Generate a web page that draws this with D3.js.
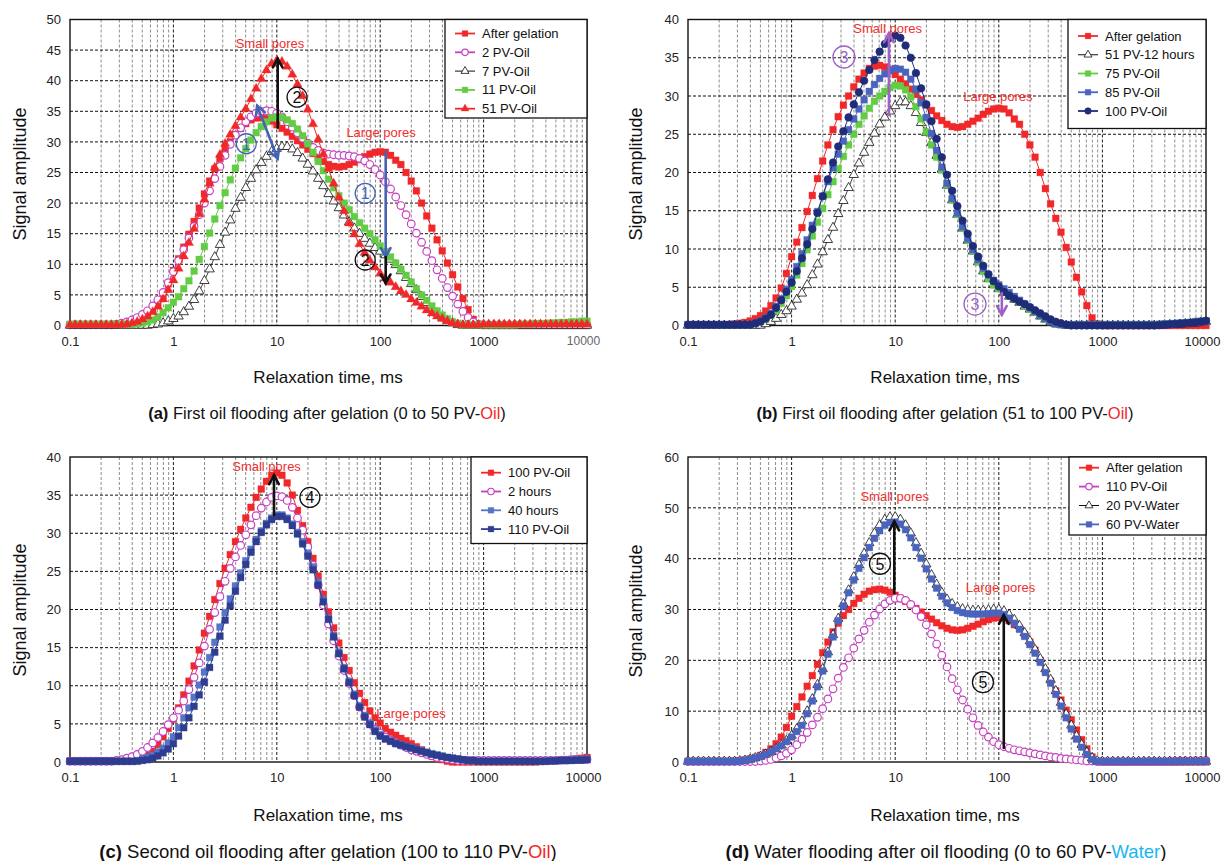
<!DOCTYPE html>
<html><head><meta charset="utf-8">
<script src="https://cdn.jsdelivr.net/npm/d3@7"></script>
<style>
body{margin:0;background:#fff;}
svg text{font-family:"Liberation Sans",Arial,sans-serif;}
</style></head><body>
<svg id="fig" width="1222" height="861"></svg>
<script>
// NMR T2 relaxation time sampling (ms), 20 points per decade
const T2 = [
0.1,0.1122,0.1259,0.1413,0.1585,0.1778,0.1995,0.2239,0.2512,0.2818,
0.3162,0.3548,0.3981,0.4467,0.5012,0.5623,0.6310,0.7079,0.7943,0.8913,
1,1.122,1.259,1.413,1.585,1.778,1.995,2.239,2.512,2.818,
3.162,3.548,3.981,4.467,5.012,5.623,6.310,7.079,7.943,8.913,
10,11.22,12.59,14.13,15.85,17.78,19.95,22.39,25.12,28.18,
31.62,35.48,39.81,44.67,50.12,56.23,63.10,70.79,79.43,89.13,
100,112.2,125.9,141.3,158.5,177.8,199.5,223.9,251.2,281.8,
316.2,354.8,398.1,446.7,501.2,562.3,631.0,707.9,794.3,891.3,
1000,1122,1259,1413,1585,1778,1995,2239,2512,2818,
3162,3548,3981,4467,5012,5623,6310,7079,7943,8913,
10000];

// Signal amplitude of each T2 spectrum
const afterGelation = [
0.1,0.1,0.1,0.1,0.1,0.1,0.1,0.1,0.1,0.2,
0.3,0.4,0.6,0.9,1.3,1.9,2.6,3.6,4.9,6.8,
9.0,10.9,12.8,14.9,17.0,19.2,21.5,23.6,25.6,27.3,
28.8,30.0,31.2,32.2,33.0,33.6,33.9,34.0,33.8,33.4,
32.8,32.2,31.6,30.9,30.2,29.5,28.8,28.1,27.4,26.8,
26.3,26.0,25.9,26.0,26.3,26.7,27.1,27.6,28.0,28.3,
28.4,28.3,27.8,27.0,26.3,25.0,23.6,22.0,20.0,17.9,
15.9,14.0,12.2,10.2,8.3,6.3,4.4,2.6,1.0,0.2,
0,0,0,0,0,0,0,0,0,0,
0,0,0,0,0,0,0,0,0,0,
0];
const pv2Oil = [
0.1,0.1,0.1,0.1,0.1,0.1,0.1,0.1,0.1,0.2,
0.4,0.6,0.9,1.3,1.8,2.4,3.2,4.2,5.4,7.0,
8.8,10.6,12.4,14.3,16.2,18.1,20.0,22.0,24.0,26.0,
27.8,29.6,31.1,32.3,33.3,34.1,34.7,35.0,35.1,35.0,
34.7,34.1,33.3,32.4,31.5,30.6,29.8,29.1,28.6,28.2,
28.0,27.9,27.8,27.8,27.7,27.6,27.3,26.9,26.3,25.5,
24.6,23.5,22.3,21.0,19.6,18.1,16.6,15.1,13.6,12.1,
10.6,9.1,7.7,6.2,4.8,3.5,2.3,1.3,0.6,0.2,
0.1,0.1,0.1,0.1,0.1,0.1,0.1,0.1,0.1,0.1,
0.1,0.1,0.1,0.1,0.1,0.1,0.1,0.1,0.1,0.1,
0.1];
const pv7Oil = [
0,0,0,0,0,0,0,0,0,0,
0,0,0,0,0,0,0.1,0.2,0.4,0.7,
1.1,1.5,2.2,3.1,4.2,5.6,7.3,9.2,11.2,13.2,
15.2,17.2,19.1,20.9,22.5,24.0,25.4,26.6,27.6,28.4,
28.9,29.2,29.2,28.8,28.2,27.3,26.3,25.2,24.0,22.8,
21.5,20.3,19.2,18.0,16.9,15.9,15.0,14.2,13.4,12.7,
12.1,11.5,10.8,9.9,8.9,7.8,6.8,5.8,4.7,3.7,
2.8,2.0,1.3,0.8,0.4,0.1,0,0,0,0,
0,0,0,0,0,0,0,0,0,0,
0,0,0,0,0,0,0,0,0,0,
0];
const pv11Oil = [
0.2,0.2,0.2,0.2,0.2,0.2,0.2,0.2,0.2,0.2,
0.2,0.2,0.2,0.3,0.4,0.6,0.9,1.4,2.1,2.9,
3.8,4.7,6.0,7.3,8.9,10.8,12.9,15.1,17.4,19.6,
21.7,23.8,25.7,27.4,28.9,30.3,31.5,32.5,33.3,33.9,
34.1,34.0,33.6,33.0,32.1,31.0,29.7,28.3,26.8,25.3,
23.9,22.5,21.2,20.0,18.9,17.8,16.8,15.9,15.0,14.0,
13.0,12.1,11.2,10.2,9.2,8.2,7.1,6.0,5.0,4.1,
3.2,2.4,1.7,1.1,0.6,0.3,0.1,0.1,0.1,0.1,
0.1,0.1,0.1,0.1,0.1,0.1,0.1,0.2,0.2,0.2,
0.3,0.3,0.3,0.4,0.4,0.5,0.5,0.6,0.6,0.7,
0.7];
const pv51Oil = [
0.1,0.1,0.1,0.1,0.1,0.1,0.1,0.1,0.1,0.1,
0.1,0.2,0.4,0.6,1.0,1.5,2.2,3.1,4.3,5.8,
7.4,9.3,11.3,13.5,15.8,18.2,20.6,23.2,25.8,27.9,
29.7,31.2,32.6,34.0,35.4,37.0,38.7,40.3,41.7,42.8,
43.3,43.1,42.3,41.0,39.4,37.5,35.3,32.9,30.4,28.0,
25.6,23.2,20.9,18.7,16.7,14.9,13.3,11.9,10.6,9.5,
8.5,7.7,7.0,6.3,5.6,5.0,4.3,3.7,3.1,2.5,
2.0,1.5,1.1,0.7,0.4,0.2,0.1,0.1,0.1,0.1,
0.2,0.2,0.2,0.2,0.2,0.2,0.2,0.2,0.2,0.2,
0.2,0.2,0.2,0.2,0.2,0.2,0.2,0.2,0.2,0.2,
0.2];
const pv51Soak12h = [
0,0,0,0,0,0,0,0,0,0,
0,0,0,0,0,0.2,0.5,0.9,1.4,1.9,
2.5,3.4,4.2,5.3,6.6,8.0,9.6,11.2,12.8,14.6,
16.3,18.0,19.7,21.2,22.6,23.9,25.1,26.3,27.2,28.0,
28.7,29.2,29.2,28.7,27.8,26.5,25.2,23.9,22.2,20.4,
18.3,16.4,14.5,12.7,11.1,9.7,8.3,7.1,6.1,5.3,
4.8,4.3,3.8,3.4,3.0,2.5,2.1,1.7,1.2,0.8,
0.5,0.2,0.1,0,0,0,0,0,0,0,
0,0,0,0,0,0,0,0,0,0,
0,0,0.05,0.1,0.1,0.15,0.2,0.25,0.3,0.4,
0.5];
const pv75Oil = [
0.1,0.1,0.1,0.1,0.1,0.1,0.1,0.1,0.1,0.1,
0.1,0.1,0.1,0.3,0.5,0.8,1.3,2.0,2.9,3.9,
5.1,6.6,8.1,9.9,11.7,13.5,15.3,17.1,18.8,20.5,
22.1,23.6,25.0,26.3,27.4,28.4,29.3,30.0,30.6,31.1,
31.4,31.3,30.8,29.9,28.6,27.0,25.3,23.6,22.0,20.3,
18.4,16.4,14.5,12.7,11.1,9.7,8.3,7.1,6.1,5.3,
4.8,4.4,3.9,3.5,3.1,2.6,2.1,1.7,1.2,0.8,
0.5,0.2,0.1,0.1,0.1,0.1,0.1,0.1,0.1,0.1,
0.1,0.1,0.1,0.1,0.1,0.1,0.1,0.1,0.1,0.1,
0.1,0.15,0.2,0.2,0.25,0.3,0.35,0.4,0.5,0.55,
0.6];
const pv85Oil = [
0.1,0.1,0.1,0.1,0.1,0.1,0.1,0.1,0.1,0.1,
0.1,0.1,0.1,0.3,0.6,1.0,1.6,2.5,3.5,4.7,
6.0,7.7,9.4,11.2,13.1,14.9,16.9,18.8,20.6,22.4,
24.1,25.6,27.0,28.3,29.5,30.6,31.5,32.3,32.9,33.3,
33.6,33.5,33.1,32.2,30.9,29.1,27.2,25.1,22.9,20.7,
18.6,16.6,14.7,12.9,11.3,9.9,8.6,7.5,6.6,5.9,
5.3,4.8,4.3,3.8,3.3,2.8,2.3,1.8,1.3,0.9,
0.5,0.2,0.1,0.1,0.1,0.1,0.1,0.1,0.1,0.1,
0.1,0.1,0.1,0.1,0.1,0.1,0.1,0.1,0.1,0.1,
0.1,0.15,0.2,0.2,0.25,0.3,0.35,0.4,0.5,0.55,
0.6];
const pv100Oil = [
0.1,0.1,0.1,0.1,0.1,0.1,0.1,0.1,0.1,0.1,
0.1,0.1,0.1,0.3,0.5,0.9,1.4,2.3,3.3,4.4,
5.6,7.1,8.8,10.6,12.6,14.7,16.9,19.1,21.3,23.4,
25.4,27.2,28.9,30.5,32.0,33.4,34.7,35.8,36.8,37.6,
37.9,37.6,36.6,35.0,33.0,31.0,28.9,26.7,24.4,22.0,
19.7,17.6,15.6,13.7,12.0,10.4,9.0,7.8,6.7,5.8,
5.1,4.4,3.9,3.5,3.1,2.8,2.4,2.0,1.6,1.2,
0.8,0.5,0.3,0.1,0,0,0,0,0,0,
0,0,0,0,0,0,0,0,0,0,
0,0.05,0.1,0.15,0.2,0.25,0.3,0.35,0.4,0.5,
0.6];
const soak2h = [
0.1,0.1,0.1,0.1,0.1,0.1,0.1,0.1,0.1,0.2,
0.3,0.5,0.7,1.0,1.4,1.9,2.5,3.2,4.0,4.9,
5.8,6.8,8.0,9.5,11.1,13.0,15.2,17.4,19.6,21.7,
23.7,25.4,26.9,28.4,29.8,31.1,32.3,33.3,34.1,34.7,
34.9,34.8,34.3,33.4,32.0,30.4,28.2,25.8,23.2,20.6,
18.1,15.9,13.9,12.0,10.3,8.7,7.2,6.0,5.0,4.3,
3.8,3.3,2.9,2.5,2.2,1.9,1.6,1.4,1.2,1.0,
0.8,0.6,0.5,0.4,0.3,0.2,0.2,0.2,0.2,0.2,
0.2,0.2,0.2,0.2,0.2,0.2,0.2,0.2,0.2,0.2,
0.2,0.2,0.2,0.2,0.2,0.25,0.25,0.3,0.3,0.3,
0.35];
const soak40h = [
0.1,0.1,0.1,0.1,0.1,0.1,0.1,0.1,0.1,0.1,
0.1,0.1,0.1,0.2,0.4,0.6,0.9,1.3,1.8,2.5,
3.3,4.5,5.8,7.1,8.5,10.1,11.8,13.7,15.7,17.7,
19.6,21.4,23.1,24.8,26.4,27.9,29.2,30.3,31.3,32.0,
32.4,32.4,32.0,31.2,30.1,28.9,27.4,25.6,23.6,21.3,
18.9,16.6,14.4,12.4,10.6,8.9,7.4,6.1,5.1,4.2,
3.6,3.1,2.8,2.5,2.3,2.1,1.9,1.7,1.5,1.3,
1.1,0.9,0.8,0.6,0.5,0.4,0.3,0.2,0.2,0.1,
0.1,0.1,0.1,0.1,0.1,0.1,0.1,0.1,0.1,0.1,
0.1,0.1,0.15,0.15,0.2,0.2,0.25,0.3,0.3,0.35,
0.4];
const pv110Oil = [
0.1,0.1,0.1,0.1,0.1,0.1,0.1,0.1,0.1,0.1,
0.1,0.1,0.1,0.1,0.2,0.3,0.5,0.8,1.2,1.7,
2.4,3.4,4.5,5.8,7.3,8.8,10.5,12.4,14.4,16.5,
18.6,20.5,22.4,24.2,25.9,27.5,28.9,30.1,31.1,31.8,
32.2,32.2,31.8,31.0,29.9,28.6,27.0,25.2,23.2,21.0,
18.7,16.4,14.2,12.2,10.4,8.7,7.2,5.9,4.9,4.0,
3.4,3.0,2.7,2.4,2.2,2.0,1.8,1.6,1.4,1.2,
1.0,0.9,0.7,0.6,0.5,0.4,0.3,0.2,0.2,0.1,
0.1,0.1,0.1,0.1,0.1,0.1,0.1,0.1,0.1,0.1,
0.1,0.1,0.1,0.15,0.15,0.2,0.2,0.2,0.25,0.25,
0.3];
const pv20Water = [
0.1,0.1,0.1,0.1,0.1,0.1,0.1,0.1,0.1,0.1,
0.2,0.3,0.5,0.8,1.1,1.5,2.0,2.6,3.3,4.2,
5.2,6.5,8.0,10.0,12.4,15.2,18.3,21.6,25.0,28.2,
31.1,33.8,36.4,38.8,41.0,43.1,45.0,46.6,47.7,48.2,
48.2,47.7,46.6,45.0,43.1,41.0,38.9,36.8,34.9,33.3,
32.0,31.1,30.5,30.1,29.9,29.8,29.8,29.8,29.9,30.0,
30.0,29.7,29.0,28.0,26.8,25.4,23.8,22.1,20.3,18.3,
16.2,14.0,11.7,9.4,7.2,5.1,3.4,1.9,0.8,0.2,
0.1,0.1,0.1,0.1,0.1,0.1,0.1,0.1,0.1,0.1,
0.1,0.1,0.1,0.1,0.1,0.1,0.1,0.1,0.1,0.1,
0.1];
const pv60Water = [
0.1,0.1,0.1,0.1,0.1,0.1,0.1,0.1,0.1,0.1,
0.2,0.3,0.5,0.8,1.1,1.5,2.0,2.6,3.2,4.0,
4.9,6.0,7.2,9.5,12.0,14.8,17.9,21.2,24.6,27.8,
30.7,33.3,35.8,38.1,40.2,42.2,44.0,45.5,46.6,47.1,
47.2,46.8,45.7,44.1,42.2,40.1,38.0,36.0,34.2,32.6,
31.3,30.4,29.8,29.4,29.2,29.1,29.1,29.1,29.2,29.3,
29.3,29.0,28.3,27.3,26.1,24.7,23.1,21.4,19.6,17.6,
15.5,13.3,11.0,8.7,6.5,4.5,2.9,1.5,0.5,0.1,
0.1,0.1,0.1,0.1,0.1,0.1,0.1,0.1,0.1,0.1,
0.1,0.1,0.1,0.1,0.1,0.1,0.1,0.1,0.1,0.1,
0.1];

// Axis tick values
const xTicks = [0.1, 1, 10, 100, 1000, 10000];
const xTickLabels = ["0.1", "1", "10", "100", "1000", "10000"];

// Colours
const RED = "#f0282a", MAG = "#c540c1", GREEN = "#62cc44", BLUE = "#4a64be",
      NAVY = "#1f2c78", DBLUE = "#2e3d90", LBLUE = "#5774c6", BLACK = "#111",
      ABLUE = "#4463b3", PURPLE = "#a061c6", CYAN = "#19b5ee";

const svg = d3.select("#fig");
svg.append("rect").attr("width", 1222).attr("height", 861).attr("fill", "#fff");

const panels = [
  {
    box: [70, 587, 19.5, 325.5], yMax: 50, yStep: 5,
    lastTickSerif: true,
    series: [
      {name: "After gelation", v: afterGelation, c: RED, m: "square", fill: true},
      {name: "2 PV-Oil", v: pv2Oil, c: MAG, m: "circle", fill: false},
      {name: "7 PV-Oil", v: pv7Oil, c: BLACK, m: "triangle", fill: false},
      {name: "11 PV-Oil", v: pv11Oil, c: GREEN, m: "square", fill: true},
      {name: "51 PV-Oil", v: pv51Oil, c: RED, m: "triangle", fill: true}
    ],
    legend: {x: 445, y: 19.5, w: 142, h: 98.5, row0: 33.5, step: 18.8},
    labels: [{t: "Small pores", x: 8.6, y: 46}, {t: "Large pores", x: 102, y: 31.6}],
    arrows: [
      {x1: 10.2, y1: 32.3, x2: 10.2, y2: 43.6, c: BLACK},
      {x1: 6.46, y1: 35.9, x2: 10.2, y2: 27.3, c: ABLUE, both: true},
      {x1: 113, y1: 28.4, x2: 113, y2: 11.2, c: ABLUE},
      {x1: 113, y1: 11.2, x2: 113, y2: 6.9, c: BLACK}
    ],
    marks: [
      {n: "2", x: 15.7, y: 37.3, c: BLACK},
      {n: "1", x: 5.07, y: 29.7, c: ABLUE},
      {n: "1", x: 71.6, y: 21.6, c: ABLUE},
      {n: "2", x: 71.6, y: 10.7, c: BLACK}
    ],
    title: {x: 328, y: 383},
    ytitle: {x: 20, y: 174},
    caption: {x: 327, y: 419, size: 16.5, parts: [["(a)", true], [" First oil flooding after gelation (0 to 50 PV-"], ["Oil", false, RED], [")"]]}
  },
  {
    box: [688, 1206, 19.5, 325.5], yMax: 40, yStep: 5,
    series: [
      {name: "After gelation", v: afterGelation, c: RED, m: "square", fill: true},
      {name: "51 PV-12 hours", v: pv51Soak12h, c: BLACK, m: "triangle", fill: false},
      {name: "75 PV-Oil", v: pv75Oil, c: GREEN, m: "square", fill: true},
      {name: "85 PV-Oil", v: pv85Oil, c: BLUE, m: "square", fill: true},
      {name: "100 PV-Oil", v: pv100Oil, c: NAVY, m: "circle", fill: true}
    ],
    legend: {x: 1068, y: 19.5, w: 138, h: 109, row0: 36, step: 18.75},
    labels: [{t: "Small pores", x: 8.46, y: 38.8}, {t: "Large pores", x: 98, y: 30.0}],
    arrows: [
      {x1: 8.7, y1: 27.5, x2: 8.7, y2: 38.2, c: PURPLE},
      {x1: 107, y1: 4.25, x2: 107, y2: 1.4, c: PURPLE}
    ],
    marks: [
      {n: "3", x: 3.2, y: 35.1, c: PURPLE, r: 11},
      {n: "3", x: 58.9, y: 2.8, c: PURPLE, r: 11}
    ],
    title: {x: 945, y: 383},
    ytitle: {x: 636, y: 174},
    caption: {x: 945, y: 419, size: 16.5, parts: [["(b)", true], [" First oil flooding after gelation (51 to 100 PV-"], ["Oil", false, RED], [")"]]}
  },
  {
    box: [70, 587, 457, 762], yMax: 40, yStep: 5,
    series: [
      {name: "100 PV-Oil", v: pv100Oil, c: RED, m: "square", fill: true},
      {name: "2 hours", v: soak2h, c: MAG, m: "circle", fill: false},
      {name: "40 hours", v: soak40h, c: LBLUE, m: "square", fill: true},
      {name: "110 PV-Oil", v: pv110Oil, c: DBLUE, m: "square", fill: true}
    ],
    legend: {x: 471, y: 457, w: 116, h: 86.5, row0: 472.7, step: 18.8},
    labels: [{t: "Small pores", x: 7.96, y: 38.7}, {t: "Large pores", x: 198.6, y: 6.3}],
    arrows: [
      {x1: 9.4, y1: 32.4, x2: 9.4, y2: 37.6, c: BLACK}
    ],
    marks: [
      {n: "4", x: 20.9, y: 34.7, c: BLACK}
    ],
    title: {x: 328, y: 821},
    ytitle: {x: 20, y: 610},
    caption: {x: 328, y: 858, size: 18.5, parts: [["(c)", true], [" Second oil flooding after gelation (100 to 110 PV-"], ["Oil", false, RED], [")"]]}
  },
  {
    box: [688, 1206, 457, 762], yMax: 60, yStep: 10,
    series: [
      {name: "After gelation", v: afterGelation, c: RED, m: "square", fill: true},
      {name: "110 PV-Oil", v: pv110Oil, c: MAG, m: "circle", fill: false},
      {name: "20 PV-Water", v: pv20Water, c: BLACK, m: "triangle", fill: false},
      {name: "60 PV-Water", v: pv60Water, c: BLUE, m: "square", fill: true}
    ],
    legend: {x: 1069, y: 457, w: 137, h: 78, row0: 467.7, step: 18.9},
    labels: [{t: "Small pores", x: 9.9, y: 52.3}, {t: "Large pores", x: 104, y: 34.3}],
    arrows: [
      {x1: 9.8, y1: 33.2, x2: 9.8, y2: 47.3, c: BLACK},
      {x1: 111.7, y1: 2.75, x2: 111.7, y2: 28.9, c: BLACK}
    ],
    marks: [
      {n: "5", x: 7.13, y: 39, c: BLACK, r: 10.5},
      {n: "5", x: 70.3, y: 15.7, c: BLACK, r: 10.5}
    ],
    title: {x: 945, y: 821},
    ytitle: {x: 636, y: 611},
    caption: {x: 946, y: 858, size: 18.5, parts: [["(d)", true], [" Water flooding after oil flooding (0 to 60 PV-"], ["Water", false, CYAN], [")"]]}
  }
];

function marker(g, s, x, y, scale) {
  const k = scale || 1;
  if (s.m === "circle") {
    g.append("circle").attr("cx", x).attr("cy", y).attr("r", 3.8 * k)
      .attr("fill", s.fill ? s.c : "#fff").attr("stroke", s.c)
      .attr("stroke-width", s.fill ? 0.6 : 1.2);
  } else {
    const type = s.m === "square" ? d3.symbolSquare : d3.symbolTriangle;
    const size = (s.m === "square" ? 46 : 38) * k * k;
    g.append("path").attr("d", d3.symbol().type(type).size(size)())
      .attr("transform", `translate(${x},${y})`)
      .attr("fill", s.fill ? s.c : "#fff").attr("stroke", s.c)
      .attr("stroke-width", s.fill ? 0.3 : 0.8);
  }
}

function drawArrow(g, x1, y1, x2, y2, c, both) {
  g.append("line").attr("x1", x1).attr("y1", y1).attr("x2", x2).attr("y2", y2)
    .attr("stroke", c).attr("stroke-width", 2.6).attr("stroke-linecap", "round");
  const head = (tx, ty, fx, fy) => {
    const a = Math.atan2(ty - fy, tx - fx), L = 10, w = 0.5;
    const p1 = [tx - L * Math.cos(a - w), ty - L * Math.sin(a - w)];
    const p2 = [tx - L * Math.cos(a + w), ty - L * Math.sin(a + w)];
    g.append("path").attr("d", `M${p1}L${tx},${ty}L${p2}`)
      .attr("fill", "none").attr("stroke", c).attr("stroke-width", 2.6)
      .attr("stroke-linecap", "round").attr("stroke-linejoin", "miter");
  };
  head(x2, y2, x1, y1);
  if (both) head(x1, y1, x2, y2);
}

panels.forEach(p => {
  const [x0, x1, y0, y1] = p.box;
  const xs = d3.scaleLog().domain([0.1, 10000]).range([x0, x1]);
  const ys = d3.scaleLinear().domain([0, p.yMax]).range([y1, y0]);
  const g = svg.append("g");

  // grid: minor and major decades, then horizontal lines
  const grid = g.append("g");
  [0.1, 1, 10, 100, 1000].forEach(b => {
    d3.range(2, 10).forEach(m => {
      grid.append("line").attr("x1", xs(b * m)).attr("x2", xs(b * m))
        .attr("y1", y0).attr("y2", y1).attr("stroke", "#8c8c8c")
        .attr("stroke-width", 1).attr("stroke-dasharray", "3,2");
    });
  });
  [1, 10, 100, 1000].forEach(t => {
    grid.append("line").attr("x1", xs(t)).attr("x2", xs(t))
      .attr("y1", y0).attr("y2", y1).attr("stroke", "#1a1a1a")
      .attr("stroke-width", 1).attr("stroke-dasharray", "3,2");
  });
  const yTicks = d3.range(0, p.yMax + 0.001, p.yStep);
  yTicks.filter(v => v > 0 && v < p.yMax).forEach(v => {
    grid.append("line").attr("x1", x0).attr("x2", x1)
      .attr("y1", ys(v)).attr("y2", ys(v)).attr("stroke", "#111")
      .attr("stroke-width", 1).attr("stroke-dasharray", "3,2");
  });

  // axes labels
  const ya = g.append("g").attr("transform", `translate(${x0},0)`)
    .call(d3.axisLeft(ys).tickValues(yTicks).tickSize(0).tickPadding(9).tickFormat(d3.format("d")));
  ya.select(".domain").remove();
  ya.selectAll("text").attr("font-size", 13).attr("fill", "#222")
    .attr("font-family", "'Liberation Sans', Arial, sans-serif");
  const xa = g.append("g").attr("transform", `translate(0,${y1})`)
    .call(d3.axisBottom(xs).tickValues(xTicks).tickSize(0).tickPadding(11)
      .tickFormat((d, i) => xTickLabels[i]));
  xa.select(".domain").remove();
  xa.selectAll("text").attr("font-size", 13).attr("fill", "#222")
    .attr("font-family", "'Liberation Sans', Arial, sans-serif");
  const lastTick = xa.selectAll("text").filter((d, i) => i === xTicks.length - 1);
  if (p.lastTickSerif) {
    lastTick.attr("font-family", "'Liberation Serif', 'DejaVu Serif', serif")
      .attr("font-size", 12).attr("fill", "#666").attr("dx", -4);
  } else {
    lastTick.attr("dx", -4);
  }

  // frame
  g.append("rect").attr("x", x0).attr("y", y0).attr("width", x1 - x0).attr("height", y1 - y0)
    .attr("fill", "none").attr("stroke", "#111").attr("stroke-width", 1.4);

  // series
  const line = d3.line().x(d => xs(d[0])).y(d => ys(d[1]));
  p.series.forEach(s => {
    const pts = T2.map((t, i) => [t, s.v[i]]);
    const sg = g.append("g");
    sg.append("path").attr("d", line(pts)).attr("fill", "none")
      .attr("stroke", s.c).attr("stroke-width", s.c === BLACK ? 0.8 : 1);
    pts.forEach(d => marker(sg, s, xs(d[0]), ys(d[1])));
  });

  // annotations
  p.labels.forEach(l => {
    g.append("text").attr("x", xs(l.x)).attr("y", ys(l.y)).attr("text-anchor", "middle")
      .attr("dominant-baseline", "central").attr("font-size", 13).attr("fill", "#f03030").text(l.t);
  });
  p.arrows.forEach(a => drawArrow(g, xs(a.x1), ys(a.y1), xs(a.x2), ys(a.y2), a.c, a.both));
  p.marks.forEach(mk => {
    const cx = xs(mk.x), cy = ys(mk.y);
    g.append("circle").attr("cx", cx).attr("cy", cy).attr("r", mk.r || 10)
      .attr("fill", "none").attr("stroke", mk.c).attr("stroke-width", 1.3);
    g.append("text").attr("x", cx).attr("y", cy + 0.5).attr("text-anchor", "middle")
      .attr("dominant-baseline", "central").attr("font-size", 16).attr("fill", mk.c).text(mk.n);
  });

  // legend
  const L = p.legend;
  const lg = g.append("g");
  lg.append("rect").attr("x", L.x).attr("y", L.y).attr("width", L.w).attr("height", L.h)
    .attr("fill", "#fff").attr("stroke", "#111").attr("stroke-width", 1.3);
  p.series.forEach((s, i) => {
    const ry = L.row0 + i * L.step;
    lg.append("line").attr("x1", L.x + 10).attr("x2", L.x + 30).attr("y1", ry).attr("y2", ry)
      .attr("stroke", s.c).attr("stroke-width", s.c === BLACK ? 1 : 1.8);
    marker(lg, s, L.x + 20, ry, 0.85);
    lg.append("text").attr("x", L.x + 37).attr("y", ry).attr("dominant-baseline", "central")
      .attr("font-size", 13).attr("fill", "#111").text(s.name);
  });

  // axis titles and caption
  svg.append("text").attr("x", p.title.x).attr("y", p.title.y).attr("text-anchor", "middle")
    .attr("font-size", 17).attr("fill", "#111").text("Relaxation time, ms");
  svg.append("text").attr("transform", `translate(${p.ytitle.x},${p.ytitle.y}) rotate(-90)`)
    .attr("text-anchor", "middle").attr("dominant-baseline", "central")
    .attr("font-size", 18).attr("fill", "#111").text("Signal amplitude");
  const cap = svg.append("text").attr("x", p.caption.x).attr("y", p.caption.y)
    .attr("text-anchor", "middle").attr("font-size", p.caption.size).attr("fill", "#111");
  p.caption.parts.forEach(pt => {
    cap.append("tspan").attr("font-weight", pt[1] ? "bold" : null)
      .attr("fill", pt[2] || null).text(pt[0]);
  });
});
</script>
</body></html>
